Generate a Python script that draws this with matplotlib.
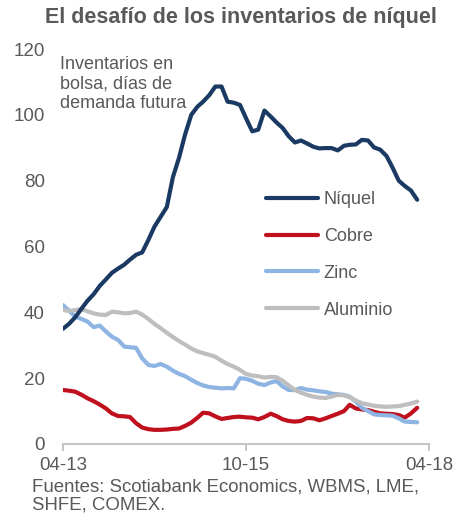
import matplotlib
matplotlib.use("Agg")
import matplotlib.pyplot as plt
import matplotlib.dates as mdates
import pandas as pd

dates = pd.date_range("2013-04-01", periods=59, freq="MS")

niquel = [35, 36.5, 38.5, 41, 43.5, 45.5, 48, 50, 52, 53.3,
          54.5, 56, 57.5, 58.2, 62, 66, 69, 72, 81, 87,
          94, 100, 102.5, 104, 106, 108.6, 108.6, 104, 103.7, 103,
          99, 95, 95.5, 101.3, 99.5, 97.7, 96, 93.5, 91.6, 92.2,
          91.3, 90.3, 89.8, 89.9, 89.9, 89.2, 90.6, 90.9, 91, 92.4,
          92.2, 90.1, 89.4, 87.5, 84, 80, 78.4, 77, 74.2]
cobre = [16.4, 16.2, 15.9, 15, 13.9, 13, 12, 10.8, 9.3, 8.5,
         8.4, 8.2, 6.3, 5, 4.5, 4.3, 4.3, 4.4, 4.6, 4.7,
         5.5, 6.5, 8, 9.5, 9.3, 8.4, 7.6, 7.9, 8.2, 8.3,
         8.1, 8, 7.5, 8.2, 9.2, 8.5, 7.5, 7, 6.8, 7,
         7.9, 7.8, 7.2, 7.8, 8.5, 9.2, 10, 11.9, 10.8, 10.5,
         10.3, 9.8, 9.3, 9.2, 9.1, 8.8, 8, 9.3, 11]
zinc = [42.2, 40.5, 38.7, 38, 37.2, 35.5, 36, 34.2, 32.6, 31.6,
        29.6, 29.4, 29.2, 26, 24, 23.7, 24.3, 23.5, 22.3, 21.3,
        20.6, 19.5, 18.5, 17.8, 17.3, 17.1, 16.9, 17, 16.9, 20,
        19.8, 19.2, 18.3, 17.9, 18.7, 19.1, 17.5, 16.4, 16.4, 17,
        16.5, 16.3, 16, 15.8, 15.3, 15.1, 14.9, 14.4, 12.9, 11,
        10, 9, 8.8, 8.7, 8.6, 7.8, 6.8, 6.7, 6.6]
aluminio = [40.7, 40.4, 40.7, 41, 40.3, 39.7, 39.3, 39.2, 40.2, 40,
            39.7, 39.8, 40.2, 39.3, 38, 36.5, 35.2, 33.8, 32.5, 31.3,
            30.2, 29, 28.1, 27.6, 27.1, 26.5, 25.3, 24.3, 23.5, 22.5,
            21.3, 20.8, 20.6, 20.2, 20.4, 20.3, 19.2, 17.8, 16.4, 15.6,
            14.9, 14.4, 14.1, 14, 14.4, 14.9, 14.8, 14.2, 13.2, 12.4,
            12, 11.6, 11.4, 11.3, 11.4, 11.5, 11.9, 12.3, 12.9]

series_names = ["Níquel", "Cobre", "Zinc", "Aluminio"]
colors = ["#1B3A63", "#C0101E", "#8DB4E2", "#BEBEBE"]
tick_dates = ["2013-04-01", "2015-10-01", "2018-04-01"]
yticks = [0, 20, 40, 60, 80, 100, 120]

plt.rcParams["font.family"] = ["Liberation Sans", "DejaVu Sans"]
txt = "#595959"

fig = plt.figure(figsize=(4.71, 5.19), dpi=100)
ax = fig.add_axes([63/471, 1-444/519, (429-63)/471, (444-49)/519])

lines = []
for vals, name, c in zip([niquel, cobre, zinc, aluminio], series_names, colors):
    l, = ax.plot(dates, vals, color=c, lw=3.0, label=name, solid_capstyle="round",
                 solid_joinstyle="round")
    lines.append(l)
lines[0].set_zorder(5)

ax.set_ylim(0, 120)
ax.set_xlim(pd.Timestamp("2013-04-01"), pd.Timestamp("2018-04-01"))
ax.set_yticks(yticks)
ax.set_xticks([pd.Timestamp(d) for d in tick_dates])
ax.xaxis.set_major_formatter(mdates.DateFormatter("%m-%y"))

for s in ["top", "right", "left"]:
    ax.spines[s].set_visible(False)
ax.spines["bottom"].set_color("#BFBFBF")
ax.spines["bottom"].set_linewidth(1.3)
ax.tick_params(axis="x", colors="#BFBFBF", length=5, width=1.3, direction="out",
               labelcolor=txt, labelsize=13.5, pad=4)
ax.tick_params(axis="y", length=0, labelcolor=txt, labelsize=13.5, pad=13)

fig.text(241/471, 1-18/519, "El desafío de los inventarios de níquel", ha="center",
         va="center", fontsize=15.5, fontweight="bold", color=txt)
fig.text(60/471, 1-56/519, "Inventarios en\nbolsa, días de\ndemanda futura",
         ha="left", va="top", fontsize=13, color=txt, linespacing=1.2)
fig.text(32/471, 1-478/519, "Fuentes: Scotiabank Economics, WBMS, LME,\nSHFE, COMEX.",
         ha="left", va="top", fontsize=13.4, color=txt, linespacing=1.15)

leg = ax.legend(loc="upper left", bbox_to_anchor=(266/471, 1-191/519),
                bbox_transform=fig.transFigure, frameon=False, borderpad=0,
                borderaxespad=0, handlelength=2.9, handletextpad=0.3,
                labelspacing=1.1, fontsize=13)
for t in leg.get_texts():
    t.set_color(txt)

fig.savefig("out.png", dpi=100)
